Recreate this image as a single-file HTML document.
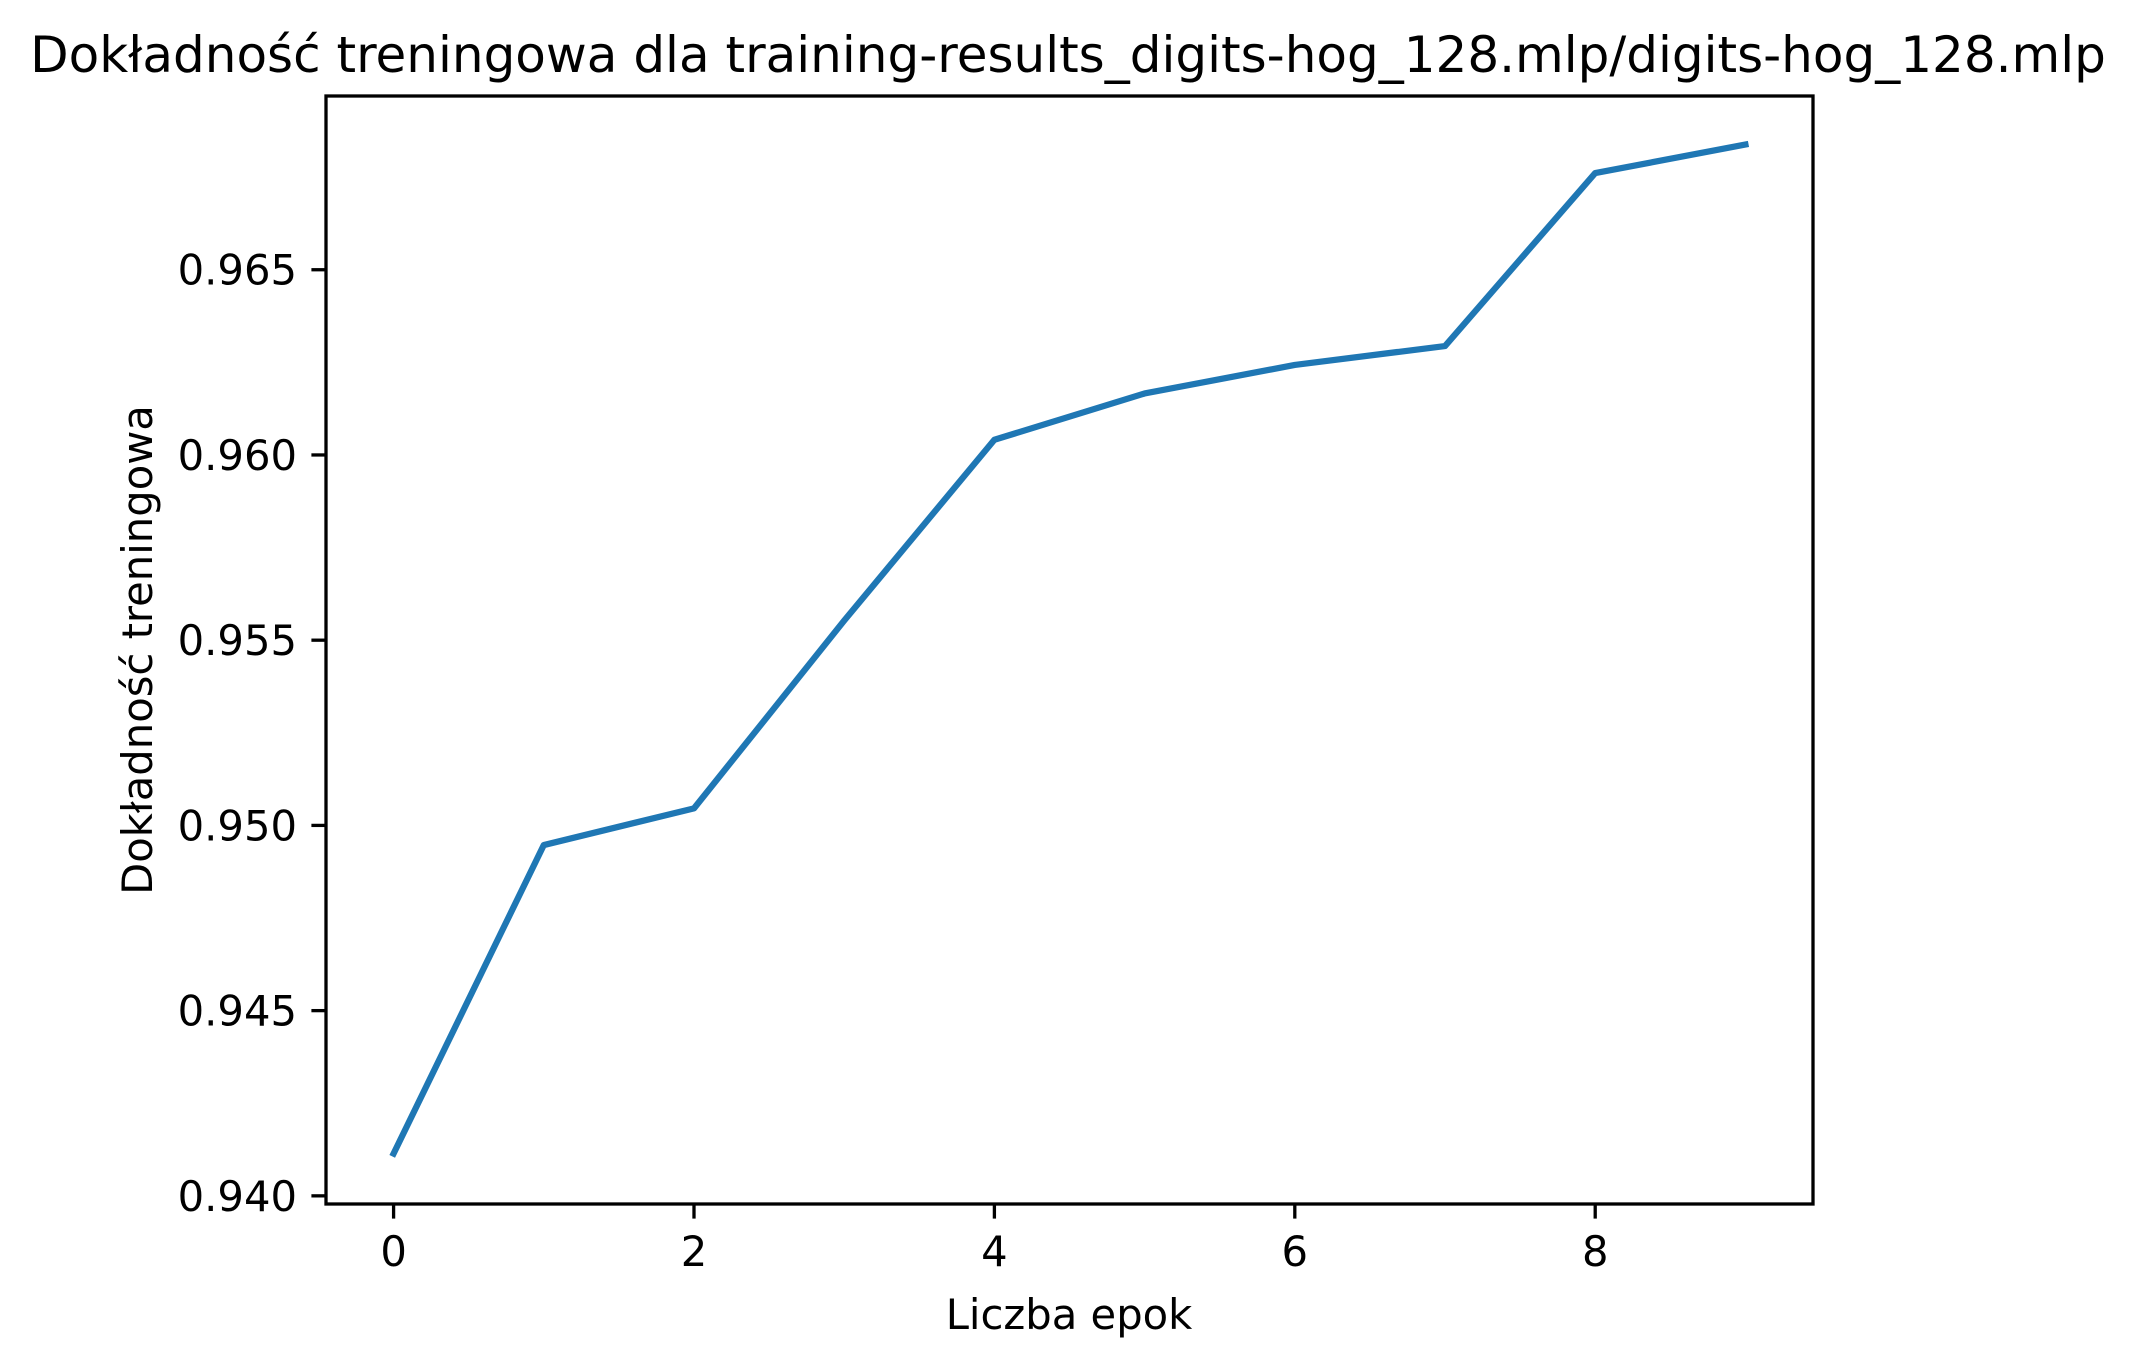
<!DOCTYPE html>
<html><head><meta charset="utf-8"><style>
html,body{margin:0;padding:0;background:#fff;}
svg{display:block;font-family:"DejaVu Sans","Liberation Sans",sans-serif;}
</style></head><body>
<svg id="chart" width="2139" height="1360" viewBox="0 0 2139 1360" xmlns="http://www.w3.org/2000/svg">
<rect x="0" y="0" width="2139" height="1360" fill="#fff"/>
<g id="plot"></g>
</svg>
<script>
const epochs = [0,1,2,3,4,5,6,7,8,9];
const accuracy = [0.94114,0.94947,0.95046,0.95553,0.96041,0.96166,0.96243,0.96294,0.96761,0.96838];
const xTicks = [0,2,4,6,8];
const yTicks = [0.940,0.945,0.950,0.955,0.960,0.965];
const yTickLabels = ["0.940","0.945","0.950","0.955","0.960","0.965"];

const NS='http://www.w3.org/2000/svg';
const L=326,R=1813,T=96,B=1204;
const xmin=-0.45,xmax=9.45,ymin=0.93978,ymax=0.96969;
function sx(v){return L+(v-xmin)/(xmax-xmin)*(R-L);}
function sy(v){return B-(v-ymin)/(ymax-ymin)*(B-T);}
const g=document.getElementById('plot');
function mk(tag,attrs,parent){const e=document.createElementNS(NS,tag);for(const k in attrs)e.setAttribute(k,attrs[k]);(parent||g).appendChild(e);return e;}

let d='';
epochs.forEach((x,i)=>{d+=(i?'L':'M')+sx(x).toFixed(2)+','+sy(accuracy[i]).toFixed(2);});
const line=mk('path',{d:d,fill:'none',stroke:'#1f77b4','stroke-width':6.25,'stroke-linecap':'square','stroke-linejoin':'round'});



const frame=mk('rect',{x:L,y:T,width:R-L,height:B-T,fill:'none',stroke:'#000','stroke-width':3.3});



xTicks.forEach(v=>{
  const x=sx(v);
  const t=mk('line',{x1:x,y1:B,x2:x,y2:B+14.6,stroke:'#000','stroke-width':3.3});
  
  
  const lb=mk('text',{x:x,y:B+62,'font-size':41.7,'text-anchor':'middle',fill:'#000'});
  lb.textContent=String(v);
  
  
});
yTicks.forEach((v,i)=>{
  const y=sy(v);
  const t=mk('line',{x1:L-14.6,y1:y,x2:L,y2:y,stroke:'#000','stroke-width':3.3});
  
  
  const lb=mk('text',{x:L-29,y:y+15,'font-size':41.7,'text-anchor':'end',fill:'#000'});
  lb.textContent=yTickLabels[i];
  
  
});
</script>
<script>
(function(){
const NS='http://www.w3.org/2000/svg';
const s=document.getElementById('chart');
function t(txt,attrs,name){const e=document.createElementNS(NS,'text');for(const k in attrs)e.setAttribute(k,attrs[k]);e.textContent=txt;s.appendChild(e);


return e;}
t('Dokładność treningowa dla training-results_digits-hog_128.mlp/digits-hog_128.mlp',{x:1068,y:72,'font-size':50,'text-anchor':'middle',fill:'#000'},'chart-title');
t('Liczba epok',{x:1069,y:1329,'font-size':41.7,'text-anchor':'middle',fill:'#000'},'x-axis-title');
t('Dokładność treningowa',{x:0,y:0,'font-size':41.7,'text-anchor':'middle',fill:'#000',transform:'translate(152,650) rotate(-90)'},'y-axis-title');
})();
</script>
</body></html>
